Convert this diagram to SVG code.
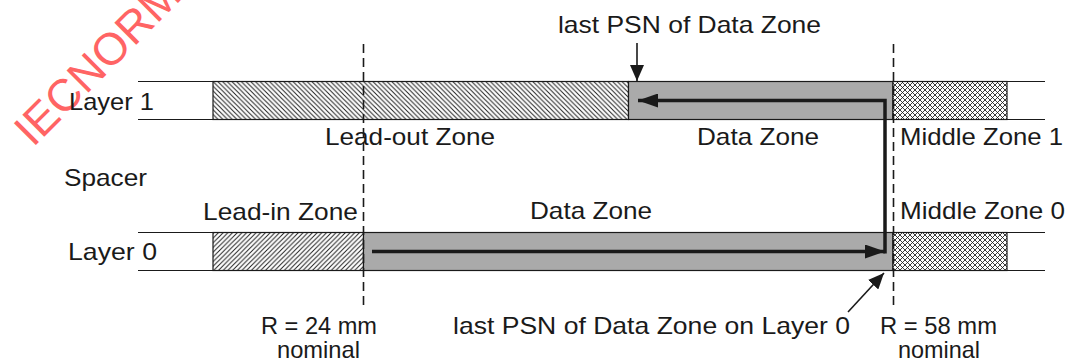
<svg xmlns="http://www.w3.org/2000/svg" width="1070" height="361" viewBox="0 0 1070 361">
<style>
.t{font-family:"Liberation Sans",Arial,sans-serif;font-size:24px;fill:#1a1a1a}
.wm{font-family:"Liberation Sans",Arial,sans-serif;font-size:45px;fill:#ff6464}
.band{stroke:#1a1a1a;stroke-width:1.2}
.edge{stroke:#1a1a1a;stroke-width:1.2;fill:none}
.dash{stroke:#1a1a1a;stroke-width:1.6;stroke-dasharray:9,5;fill:none}
.flow{stroke:#1a1a1a;stroke-width:3.5;fill:none;stroke-linejoin:miter}
.ptr{stroke:#1a1a1a;stroke-width:1.6;fill:none}
</style>
<defs>
<pattern id="hb" width="4.7" height="4.7" patternUnits="userSpaceOnUse"><rect width="4.7" height="4.7" fill="#fff"/><path d="M-1,-1 L5.7,5.7 M-1,3.7 L1,5.7 M3.7,-1 L5.7,1" stroke="#1a1a1a" stroke-width="0.95"/></pattern>
<pattern id="hf" width="4.7" height="4.7" patternUnits="userSpaceOnUse"><rect width="4.7" height="4.7" fill="#fff"/><path d="M-1,5.7 L5.7,-1 M-1,1 L1,-1 M3.7,5.7 L5.7,3.7" stroke="#1a1a1a" stroke-width="0.95"/></pattern>
<pattern id="hx" width="5" height="5" patternUnits="userSpaceOnUse"><rect width="5" height="5" fill="#fff"/><path d="M-1,-1 L6,6 M-1,6 L6,-1" stroke="#1a1a1a" stroke-width="0.85"/></pattern>
<marker id="ab" markerUnits="userSpaceOnUse" markerWidth="20" markerHeight="14" refX="20" refY="7" orient="auto"><path d="M0,0 L20,7 L0,14 z" fill="#1a1a1a"/></marker>
<marker id="as" markerUnits="userSpaceOnUse" markerWidth="16" markerHeight="14" refX="16" refY="7" orient="auto"><path d="M0,0 L16,7 L0,14 z" fill="#1a1a1a"/></marker>
</defs>
<rect width="1070" height="361" fill="#fff"/>
<text class="wm" x="33" y="148" transform="rotate(-45 33 148)">IECNORM</text>

<g id="layer1">
<rect x="213" y="81.5" width="415.5" height="38" fill="url(#hb)" class="band"/>
<rect x="628.5" y="81.5" width="264.5" height="38" fill="#aaaaaa" class="band"/>
<rect x="893" y="81.5" width="114" height="38" fill="url(#hx)" class="band"/>
<path class="edge" d="M138,81.5 H1045 M138,119.5 H1045"/>
</g>
<g id="layer0">
<rect x="213" y="232.5" width="150.5" height="38" fill="url(#hf)" class="band"/>
<rect x="363.5" y="232.5" width="529.5" height="38" fill="#aaaaaa" class="band"/>
<rect x="893" y="232.5" width="114" height="38" fill="url(#hx)" class="band"/>
<path class="edge" d="M138,232.5 H1045 M138,270.5 H1045"/>
</g>

<g id="connectors">
<path class="dash" d="M363.5,44 V310"/>
<path class="dash" d="M893.5,44 V310"/>
<path class="flow" d="M372,251.5 H885" marker-end="url(#ab)"/>
<path class="flow" d="M885,253.5 V100.5 H638" marker-end="url(#ab)"/>
<path class="ptr" d="M637,43 V81" marker-end="url(#as)"/>
<path class="ptr" d="M848,312 L884,273" marker-end="url(#as)"/>
</g>

<g id="labels">
<text class="t" x="558" y="33" textLength="263" lengthAdjust="spacingAndGlyphs">last PSN of Data Zone</text>
<text class="t" x="69" y="110" textLength="85" lengthAdjust="spacingAndGlyphs">Layer 1</text>
<text class="t" x="325" y="145" textLength="170" lengthAdjust="spacingAndGlyphs">Lead-out Zone</text>
<text class="t" x="697" y="145" textLength="122" lengthAdjust="spacingAndGlyphs">Data Zone</text>
<text class="t" x="900" y="145" textLength="163" lengthAdjust="spacingAndGlyphs">Middle Zone 1</text>
<text class="t" x="64" y="186" textLength="83" lengthAdjust="spacingAndGlyphs">Spacer</text>
<text class="t" x="203" y="220" textLength="155" lengthAdjust="spacingAndGlyphs">Lead-in Zone</text>
<text class="t" x="530" y="219" textLength="122" lengthAdjust="spacingAndGlyphs">Data Zone</text>
<text class="t" x="900" y="219" textLength="165" lengthAdjust="spacingAndGlyphs">Middle Zone 0</text>
<text class="t" x="68" y="260" textLength="89" lengthAdjust="spacingAndGlyphs">Layer 0</text>
<text class="t" x="261" y="334" textLength="116" lengthAdjust="spacingAndGlyphs">R = 24 mm</text>
<text class="t" x="277" y="358" textLength="83" lengthAdjust="spacingAndGlyphs">nominal</text>
<text class="t" x="453" y="334" textLength="397" lengthAdjust="spacingAndGlyphs">last PSN of Data Zone on Layer 0</text>
<text class="t" x="880" y="334" textLength="117" lengthAdjust="spacingAndGlyphs">R = 58 mm</text>
<text class="t" x="898" y="358" textLength="82" lengthAdjust="spacingAndGlyphs">nominal</text>
</g>
</svg>
